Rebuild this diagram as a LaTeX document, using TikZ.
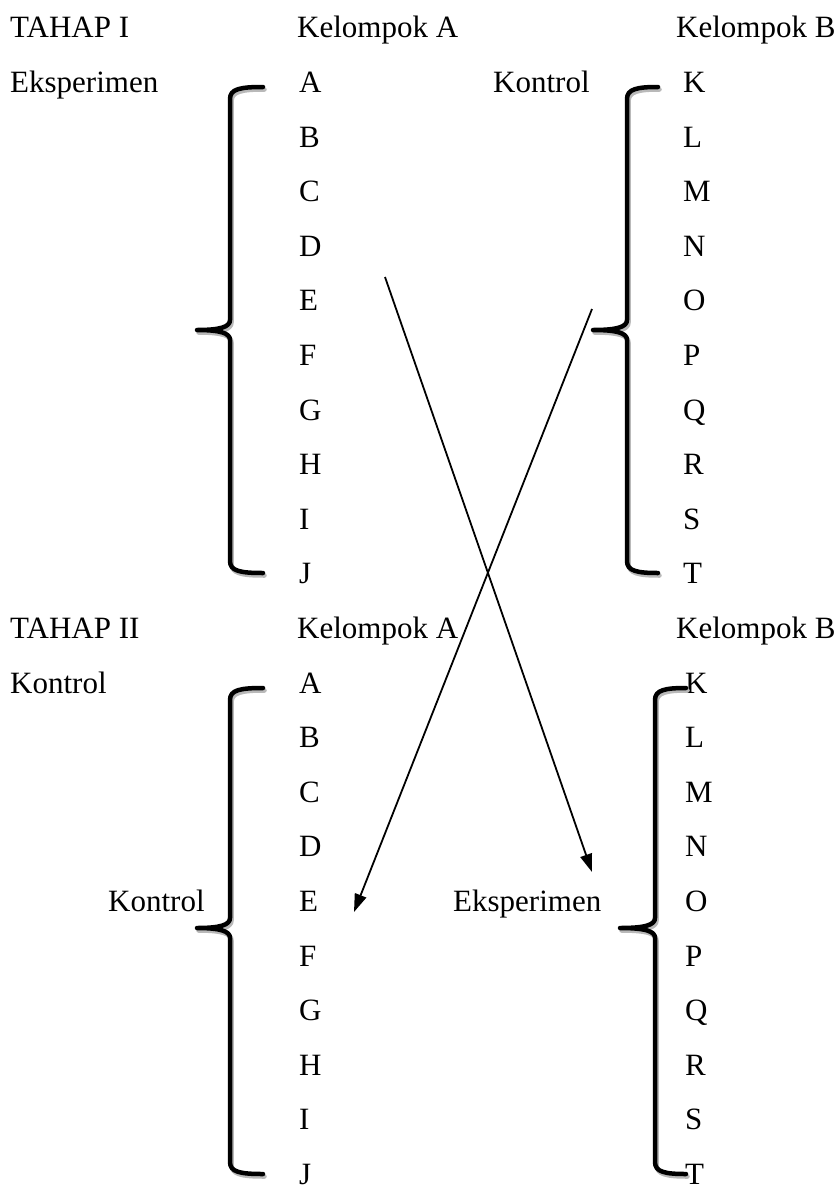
\documentclass[tikz,border=0pt]{standalone}
\usepackage{fontspec}
\setmainfont{LiberationSerif}[Extension=.ttf, UprightFont=*-Regular, BoldFont=*-Bold]
\usetikzlibrary{arrows.meta}

% curly brace drawn as one stroke: #1 stem x, #2 top y, #3 bottom y,
% #4 cusp y, #5 cusp tip x, #6 arm end x, #7 style
\newcommand\wordbrace[7]{%
  \draw[#7] (#6,#2) .. controls (#1+10,#2) and (#1,#2+2) .. (#1,#2+12)
    -- (#1,#4-10) .. controls (#1,#4-3) and (#1-10,#4) .. (#5,#4)
    .. controls (#1-10,#4) and (#1,#4+3) .. (#1,#4+10)
    -- (#1,#3-12) .. controls (#1,#3-2) and (#1+10,#3) .. (#6,#3);}

\begin{document}
\begin{tikzpicture}[x=1pt,y=-1pt,
  lbl/.style={anchor=base west, inner sep=0pt, font=\rmfamily\fontsize{31}{31}\selectfont},
  link/.style={line width=1.8pt, -{Triangle[length=18pt,width=12pt]}},
  bracestroke/.style={line width=4.5pt, line cap=round, line join=round},
  braceshade/.style={bracestroke, gray!55, shift={(1.5,2.5)}},
]
\useasboundingbox (0,0) rectangle (839,1194);

% ---------- stage I ----------
\node[lbl] (tahap1) at (10,37.8) {TAHAP I};
\node[lbl] (kelA1) at (297,37.8) {Kelompok A};
\node[lbl] (kelB1) at (676,37.8) {Kelompok B};
\node[lbl] (eks1) at (10,92.4) {Eksperimen};
\node[lbl] (kon1) at (493,92.4) {Kontrol};
\foreach \t [count=\i] in {A,B,C,D,E,F,G,H,I,J}
  \node[lbl] (a1-\t) at (299,{37.8+54.6*\i}) {\t};
\foreach \t [count=\i] in {K,L,M,N,O,P,Q,R,S,T}
  \node[lbl] (b1-\t) at (683,{37.8+54.6*\i}) {\t};

\wordbrace{230}{87}{573}{330}{197}{263}{braceshade}
\wordbrace{230}{87}{573}{330}{197}{263}{bracestroke}
\wordbrace{627}{87}{573}{330}{593}{658}{braceshade}
\wordbrace{627}{87}{573}{330}{593}{658}{bracestroke}

% ---------- stage II ----------
\node[lbl] (tahap2) at (10,638.4) {TAHAP II};
\node[lbl] (kelA2) at (297,638.4) {Kelompok A};
\node[lbl] (kelB2) at (676,638.4) {Kelompok B};
\node[lbl] (kon2) at (10,693) {Kontrol};
\node[lbl] (kon3) at (108,911.4) {Kontrol};
\node[lbl] (eks2) at (453,911.4) {Eksperimen};
\foreach \t [count=\i] in {A,B,C,D,E,F,G,H,I,J}
  \node[lbl] (a2-\t) at (299,{638.4+54.6*\i}) {\t};
\foreach \t [count=\i] in {K,L,M,N,O,P,Q,R,S,T}
  \node[lbl] (b2-\t) at (685,{638.4+54.6*\i}) {\t};

\wordbrace{230}{688}{1174}{928}{197}{263}{braceshade}
\wordbrace{230}{688}{1174}{928}{197}{263}{bracestroke}
\wordbrace{655}{688}{1174}{928}{620}{686}{braceshade}
\wordbrace{655}{688}{1174}{928}{620}{686}{bracestroke}

% ---------- group exchange ----------
\coordinate (fromA) at (385,277);
\coordinate (toB) at (592,872);
\coordinate (fromB) at (592,309);
\coordinate (toA) at (354,912);
\draw[link] (fromA) -- (toB);
\draw[link] (fromB) -- (toA);
\end{tikzpicture}
\end{document}
